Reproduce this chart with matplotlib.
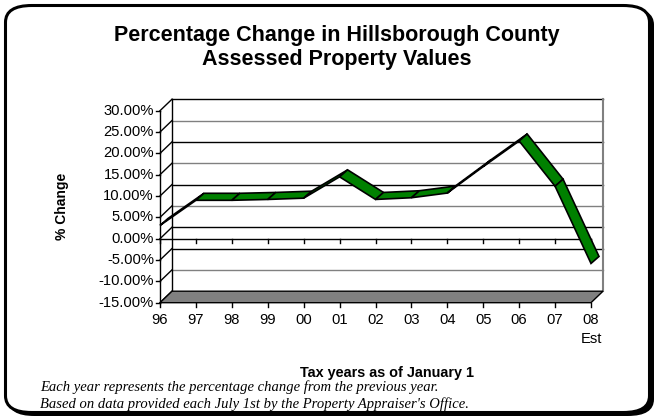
import matplotlib
matplotlib.use("Agg")
import matplotlib.pyplot as plt
from matplotlib.patches import Polygon, FancyBboxPatch

# percentage change in assessed values, by tax year
years = ['96', '97', '98', '99', '00', '01', '02', '03', '04', '05', '06', '07', '08\nEst']
pct_change = [3.1, 9.0, 9.0, 9.2, 9.5, 14.5, 9.2, 9.6, 10.7, 16.9, 22.9, 12.3, -5.8]
y_ticks = [-15, -10, -5, 0, 5, 10, 15, 20, 25, 30]

W, H = 657, 418
plt.rcParams['font.family'] = ['Liberation Sans', 'DejaVu Sans']

fig = plt.figure(figsize=(W / 100, H / 100), dpi=100)

# frame with a drop shadow, kept behind the axes
shadow = FancyBboxPatch((8 / W, 2 / H), 646 / W, 408 / H,
                        boxstyle="round,pad=0,rounding_size=0.04",
                        transform=fig.transFigure, fc='black', ec='black', lw=0, zorder=-3)
frame = FancyBboxPatch((5.5 / W, 5.5 / H), 644 / W, 407 / H,
                       boxstyle="round,pad=0,rounding_size=0.04",
                       transform=fig.transFigure, fc='white', ec='black', lw=2.2, zorder=-2)
fig.patches.extend([shadow, frame])

# front plane of the plot: x = category index, y = percent
x0, x1 = 160, 591
y_bot, y_top = 302.7, 110.7
ax = fig.add_axes([x0 / W, (H - y_bot) / H, (x1 - x0) / W, (y_bot - y_top) / H])
ax.set_xlim(0, len(years) - 1)
ax.set_ylim(y_ticks[0], y_ticks[-1])
ax.axis('off')

px_x = (x1 - x0) / (len(years) - 1)
px_y = (y_bot - y_top) / (y_ticks[-1] - y_ticks[0])
# depth of the walls and of the ribbon, in data units
DX, DY = 12 / px_x, 11.5 / px_y
RX, RY = 8 / px_x, 7 / px_y

n = len(years) - 1
lo, hi = y_ticks[0], y_ticks[-1]

# back wall
for v in y_ticks[1:]:
    col = 'black' if v in (30, 20, 10, 0, -5) else '#808080'
    ax.plot([DX, n + DX], [v + DY, v + DY], color=col, lw=1, clip_on=False, zorder=1)
ax.plot([DX, DX], [lo + DY, hi + DY], color='black', lw=1, clip_on=False, zorder=1)
ax.plot([n + DX, n + DX], [lo + DY, hi + DY], color='#808080', lw=1.5, clip_on=False, zorder=1)

# side wall edges
for v in y_ticks:
    ax.plot([0, DX], [v, v + DY], color='black', lw=1, clip_on=False, zorder=2)

# floor
floor = Polygon([(0, lo), (n, lo), (n + DX, lo + DY), (DX, lo + DY)],
                closed=True, fc='#808080', ec='black', lw=1, clip_on=False, zorder=2)
ax.add_patch(floor)

# value axis
ax.plot([0, 0], [lo, hi], color='black', lw=1, clip_on=False, zorder=3)
for v in y_ticks:
    ax.plot([-4 / px_x, 0], [v, v], color='black', lw=1, clip_on=False, zorder=3)
    ax.text(-6 / px_x, v, f'{v:.2f}%', ha='right', va='center', fontsize=10.6)

# zero line and category ticks
ax.plot([0, n], [0, 0], color='black', lw=1, clip_on=False, zorder=3)
for i, lab in enumerate(years):
    ax.plot([i, i], [0, -4 / px_y], color='black', lw=1, clip_on=False, zorder=3)
    ax.plot([i, i], [lo, lo - 4 / px_y], color='black', lw=1, clip_on=False, zorder=3)
    ax.text(i, lo - 10.5 / px_y, lab, ha='center', va='top', fontsize=10.6, linespacing=1.45)

# 3-D ribbon for the series
for i in range(n):
    a, b = pct_change[i], pct_change[i + 1]
    seg = Polygon([(i, a), (i + 1, b), (i + 1 + RX, b + RY), (i + RX, a + RY)],
                  closed=True, fc='#008000', ec='black', lw=1.2,
                  joinstyle='miter', clip_on=False, zorder=4 + i)
    ax.add_patch(seg)

# titles and notes
fig.text(337 / W, 1 - 35 / H, 'Percentage Change in Hillsborough County',
         ha='center', va='center', fontsize=15.5, fontweight='bold')
fig.text(337 / W, 1 - 59 / H, 'Assessed Property Values',
         ha='center', va='center', fontsize=15.5, fontweight='bold')
fig.text(62 / W, 1 - 206 / H, '% Change', rotation=90, ha='center', va='center',
         fontsize=10, fontweight='bold')
fig.text(387 / W, 1 - 373 / H, 'Tax years as of January 1', ha='center', va='center',
         fontsize=10.4, fontweight='bold')
fig.text(40 / W, 1 - 387 / H, 'Each year represents the percentage change from the previous year.',
         ha='left', va='center', fontsize=10.5, style='italic', family='Liberation Serif')
fig.text(40 / W, 1 - 404 / H, "Based on data provided each July 1st by the Property Appraiser's Office.",
         ha='left', va='center', fontsize=10.5, style='italic', family='Liberation Serif')

fig.savefig('out.png', dpi=100, facecolor='white')
